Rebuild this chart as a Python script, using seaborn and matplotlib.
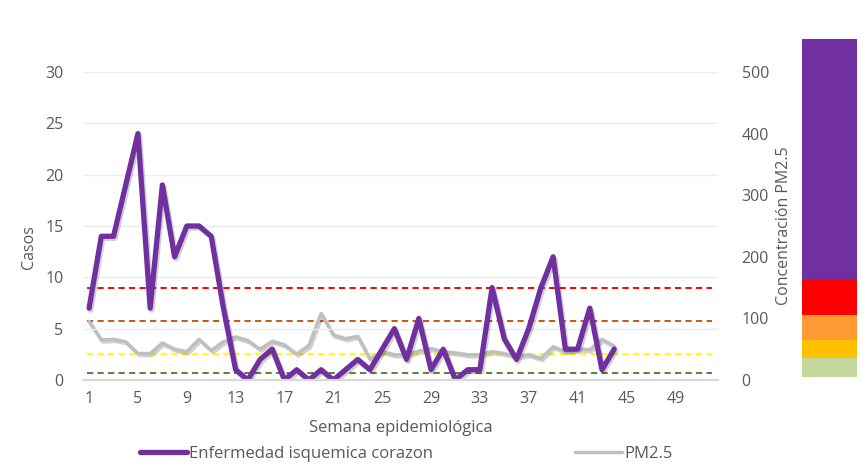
import numpy as np
import pandas as pd
import matplotlib
matplotlib.use("Agg")
import matplotlib.pyplot as plt
import matplotlib.patheffects as pe
from matplotlib.lines import Line2D
import seaborn as sns

# Weekly series
semanas = list(range(1, 45))
casos = [7, 14, 14, 19, 24, 7, 19, 12, 15, 15, 14, 7, 1, 0, 2, 3, 0, 1, 0, 1,
         0, 1, 2, 1, 3, 5, 2, 6, 1, 3, 0, 1, 1, 9, 4, 2, 5, 9, 12, 3,
         3, 7, 1, 3]
pm25 = [95, 65, 66, 62, 43, 43, 60, 50, 46, 66, 48, 62, 70, 64, 50, 63, 57, 42, 56, 108,
        73, 67, 71, 34, 46, 41, 41, 47, 51, 46, 44, 41, 41, 46, 43, 38, 41, 35, 54, 46,
        51, 49, 66, 55]

# Reference levels of PM2.5 (dashed lines)
umbrales = [150, 96, 43, 11]
colores_umbral = ["#ff0000", "#c55a11", "#ffff00", "#548235"]

# Concentration scale bar on the right
escala_limites = [5, 36, 65, 105, 164, 553]
escala_colores = ["#c4d79b", "#ffc000", "#ff9933", "#ff0000", "#7030a0"]

tick_semanas = list(range(1, 50, 4))
total_semanas = 52

sns.set_theme(style="white")
plt.rcParams["font.family"] = ["Open Sans", "DejaVu Sans"]
texto = "#595959"

fig = plt.figure(figsize=(8.66, 4.68), dpi=100)
W, H = 866, 468
ax = fig.add_axes([83 / W, 88 / H, 635 / W, 308 / H])
ax2 = ax.twinx()

df = pd.DataFrame({"semana": semanas, "casos": casos, "pm25": pm25})

sombra = [pe.SimpleLineShadow(offset=(1.2, -1.5), shadow_color="#000000", alpha=0.18),
          pe.Normal()]

# PM2.5 on the secondary axis
sns.lineplot(data=df, x="semana", y="pm25", ax=ax2, color="#bfbfbf", lw=2.5,
             legend=False)
ax2.lines[-1].set_path_effects(sombra)

# threshold lines
for val, col in zip(umbrales, colores_umbral):
    ax2.plot([0.85, total_semanas], [val, val], color=col, lw=1.4,
             linestyle=(0, (3.2, 2.2)), zorder=1)

# Cases on the primary axis
sns.lineplot(data=df, x="semana", y="casos", ax=ax, color="#7030a0", lw=3.8,
             legend=False)
ax.lines[-1].set_path_effects(sombra)

ax.set_zorder(ax2.get_zorder() + 1)
ax.patch.set_visible(False)

ax.set_xlim(0.5, total_semanas + 0.5)
ax.set_ylim(0, 30)
ax2.set_ylim(0, 500)
ax.set_yticks(range(0, 31, 5))
ax2.set_yticks(range(0, 501, 100))
ax.set_xticks(tick_semanas)
ax.set_xticklabels([str(t) for t in tick_semanas])

ax.grid(axis="y", color="#ececec", lw=1.0)
ax.grid(axis="x", visible=False)
ax2.grid(False)
for a in (ax, ax2):
    for s in a.spines.values():
        s.set_visible(False)
ax.spines["bottom"].set_visible(True)
ax.spines["bottom"].set_color("#d9d9d9")
ax.spines["bottom"].set_linewidth(1.6)

ax.tick_params(axis="both", length=0, labelsize=11.5, colors=texto)
ax.tick_params(axis="x", pad=8)
ax.tick_params(axis="y", pad=14)
ax2.tick_params(axis="y", length=0, labelsize=11.5, colors=texto, pad=17)

ax.set_xlabel("Semana epidemiológica", fontsize=12, color=texto, labelpad=9)
ax.set_ylabel("Casos", fontsize=11.5, color=texto)
ax.yaxis.set_label_coords(-0.072, 0.43)
ax2.set_ylabel("Concentración PM2.5", fontsize=11.5, color=texto, labelpad=5)

# scale bar
axb = fig.add_axes([802 / W, (468 - 380) / H, 55 / W, (380 - 39) / H])
for lo, hi, col in zip(escala_limites[:-1], escala_limites[1:], escala_colores):
    axb.bar(0, hi - lo, bottom=lo, width=1, color=col, edgecolor="none")
axb.set_xlim(-0.5, 0.5)
axb.set_ylim(0, escala_limites[-1])
axb.axis("off")

# legend entries below the axis title
ley_kw = dict(loc="center left", frameon=False, fontsize=12, labelcolor=texto,
              handlelength=2.8, handletextpad=0.15, borderpad=0, borderaxespad=0)
fig.legend([Line2D([], [], color="#7030a0", lw=3.8, solid_capstyle="round")],
           ["Enfermedad isquemica corazon"],
           bbox_to_anchor=(140 / W, 1 - 454 / H), **ley_kw)
fig.legend([Line2D([], [], color="#bfbfbf", lw=2.5)], ["PM2.5"],
           bbox_to_anchor=(575 / W, 1 - 454 / H), **ley_kw)

fig.savefig("out.png", dpi=100)
